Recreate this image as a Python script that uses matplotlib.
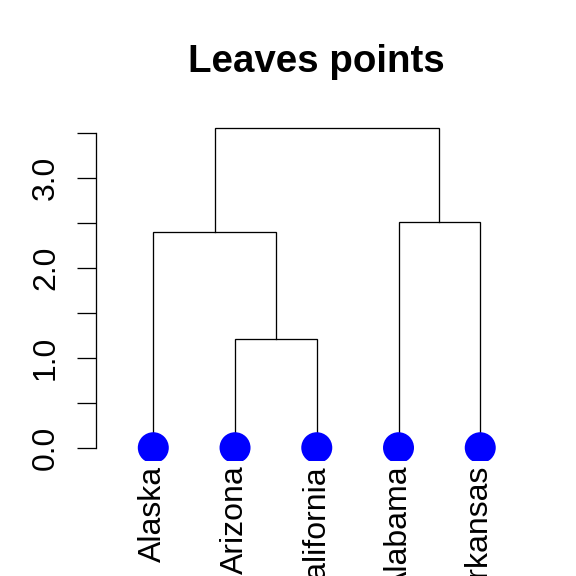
import numpy as np
import matplotlib
matplotlib.use("Agg")
import matplotlib.pyplot as plt

plt.rcParams['font.family'] = ['Liberation Sans', 'DejaVu Sans']

# leaves in plotted order, and the merges (negative = leaf, positive = earlier merge)
leaf_labels = ["Alaska", "Arizona", "California", "Alabama", "Arkansas"]
merge_pairs = [(-2, -3), (-1, 1), (-4, -5), (2, 3)]
merge_heights = [1.21, 2.40, 2.51, 3.56]
y_ticks = [0.0, 0.5, 1.0, 1.5, 2.0, 2.5, 3.0, 3.5]
y_ticklabels = ["0.0", "", "1.0", "", "2.0", "", "3.0", ""]

fig = plt.figure(figsize=(8, 8), dpi=72)
ax = fig.add_axes([0.1668, 0.2005, 0.7663, 0.5995])

leaf_x = np.arange(1, len(leaf_labels) + 1)
node_x = []


def child_pos(c):
    if c < 0:
        return leaf_x[-c - 1], 0.0
    return node_x[c - 1], merge_heights[c - 1]


for (a, b), h in zip(merge_pairs, merge_heights):
    xa, ha = child_pos(a)
    xb, hb = child_pos(b)
    ax.plot([xa, xa, xb, xb], [ha, h, h, hb], color="black", lw=1.3,
            solid_joinstyle="miter")
    node_x.append((xa + xb) / 2)

ax.scatter(leaf_x, np.zeros(len(leaf_x)), s=31 ** 2, color="blue",
           edgecolors="none", zorder=3)

ax.set_xlim(0.3, 5.7)
ax.set_ylim(-0.1424, 3.7024)

for side in ["top", "right", "bottom"]:
    ax.spines[side].set_visible(False)
ax.spines["left"].set_bounds(0, 3.5)
ax.spines["left"].set_linewidth(1.3)

ax.set_yticks(y_ticks)
ax.set_yticklabels(y_ticklabels, rotation=90, va="center", fontsize=32)
ax.tick_params(axis="y", length=19, width=1.3, pad=16)

ax.set_xticks(leaf_x)
ax.set_xticklabels(leaf_labels, rotation=90, fontsize=32)
ax.tick_params(axis="x", length=0, pad=5)

fig.text(0.55, 1 - 71.7 / 576, "Leaves points", ha="center", va="baseline",
         fontsize=38.5, fontweight="bold")

fig.savefig("out.png", dpi=72)
